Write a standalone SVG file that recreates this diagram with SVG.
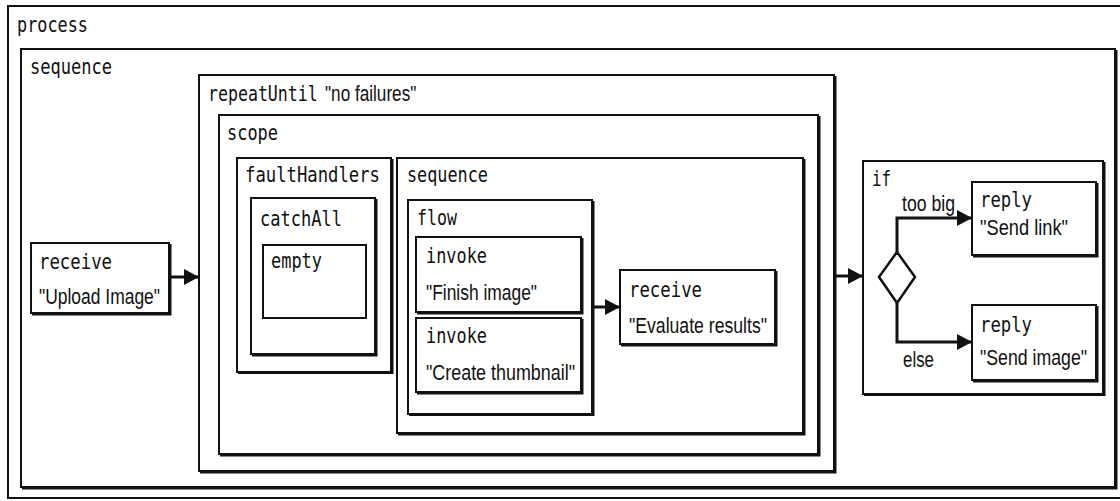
<svg xmlns="http://www.w3.org/2000/svg" width="1120" height="501" viewBox="0 0 1120 501">
  <style>
    .box { fill: #fff; stroke: #111; stroke-width: 2; }
    .shadow { fill: none; stroke: #111; stroke-width: 2; }
    .kw { font-family: "DejaVu Sans Mono", "Liberation Mono", monospace; font-size: 21px; fill: #111; }
    .str { font-family: "Liberation Sans", Arial, sans-serif; font-size: 22px; fill: #111; }
    .edge { fill: none; stroke: #111; stroke-width: 3; }
  </style>
  <defs>
    <marker id="arrow" markerUnits="userSpaceOnUse" markerWidth="16" markerHeight="17" refX="15" refY="8" orient="auto">
      <path d="M0,0 L15,8 L0,16 z" fill="#111"/>
    </marker>
  </defs>
  <rect width="1120" height="501" fill="#fff"/>

  <g id="process">
    <rect class="box" x="8" y="6" width="1114" height="492"/>
    <text class="kw" x="17" y="32" textLength="71" lengthAdjust="spacingAndGlyphs">process</text>
  </g>

  <g id="sequence-main">
    <rect class="box" x="21" y="49" width="1094" height="438" stroke-width="2.5"/>
    <path class="shadow" d="M1116.5,50 V488.5 H22"/>
    <text class="kw" x="30" y="74" textLength="82" lengthAdjust="spacingAndGlyphs">sequence</text>
  </g>

  <g id="receive-upload">
    <rect class="box" x="31" y="243" width="138" height="70"/>
    <path class="shadow" d="M170.5,244 V314.5 H32"/>
    <text class="kw" x="39" y="269" textLength="73" lengthAdjust="spacingAndGlyphs">receive</text>
    <text class="str" x="39" y="304" textLength="121" lengthAdjust="spacingAndGlyphs">"Upload Image"</text>
  </g>

  <g id="repeat-until">
    <rect class="box" x="199" y="75" width="635" height="396" stroke-width="2.5"/>
    <path class="shadow" d="M835.5,76 V472.5 H200"/>
    <text class="kw" transform="translate(208,101) scale(0.79,1)">repeatUntil</text>
    <text class="str" transform="translate(325,101) scale(0.78,1)">"no failures"</text>
  </g>

  <g id="scope">
    <rect class="box" x="219" y="115" width="599" height="339"/>
    <path class="shadow" d="M819.5,116 V455.5 H220"/>
    <text class="kw" x="227" y="140" textLength="51" lengthAdjust="spacingAndGlyphs">scope</text>
  </g>

  <g id="fault-handlers">
    <rect class="box" x="237" y="158" width="154" height="214"/>
    <path class="shadow" d="M392.5,159 V373 H238"/>
    <text class="kw" x="245" y="182" textLength="135" lengthAdjust="spacingAndGlyphs">faultHandlers</text>
  </g>

  <g id="catch-all">
    <rect class="box" x="251" y="198" width="124" height="156"/>
    <path class="shadow" d="M376.5,199 V355.5 H252"/>
    <text class="kw" x="260" y="226" textLength="82" lengthAdjust="spacingAndGlyphs">catchAll</text>
  </g>

  <g id="empty">
    <rect class="box" x="263" y="245" width="103" height="73"/>
    <text class="kw" x="271" y="268" textLength="51" lengthAdjust="spacingAndGlyphs">empty</text>
  </g>

  <g id="sequence-inner">
    <rect class="box" x="397" y="158" width="406" height="275" stroke-width="2.5"/>
    <path class="shadow" d="M804.5,159 V434.5 H398"/>
    <text class="kw" x="407" y="182" textLength="81" lengthAdjust="spacingAndGlyphs">sequence</text>
  </g>

  <g id="flow">
    <rect class="box" x="408" y="200" width="184" height="214"/>
    <path class="shadow" d="M593.5,201 V415 H409"/>
    <text class="kw" x="417" y="225" textLength="40" lengthAdjust="spacingAndGlyphs">flow</text>
  </g>

  <g id="invoke-finish">
    <rect class="box" x="416" y="237" width="165" height="75"/>
    <path class="shadow" d="M582.5,238 V313.5 H417"/>
    <text class="kw" x="426" y="263" textLength="61" lengthAdjust="spacingAndGlyphs">invoke</text>
    <text class="str" x="426" y="300" textLength="111" lengthAdjust="spacingAndGlyphs">"Finish image"</text>
  </g>

  <g id="invoke-thumbnail">
    <rect class="box" x="416" y="318" width="165" height="74"/>
    <path class="shadow" d="M582.5,319 V393.5 H417"/>
    <text class="kw" x="426" y="343" textLength="61" lengthAdjust="spacingAndGlyphs">invoke</text>
    <text class="str" x="426" y="380" textLength="149" lengthAdjust="spacingAndGlyphs">"Create thumbnail"</text>
  </g>

  <g id="receive-evaluate">
    <rect class="box" x="620" y="270" width="155" height="74"/>
    <path class="shadow" d="M776.5,271 V345.5 H621"/>
    <text class="kw" x="629" y="297" textLength="73" lengthAdjust="spacingAndGlyphs">receive</text>
    <text class="str" x="629" y="333" textLength="138" lengthAdjust="spacingAndGlyphs">"Evaluate results"</text>
  </g>

  <g id="if">
    <rect class="box" x="863" y="161" width="240" height="233"/>
    <path class="shadow" d="M1104.5,162 V395 H864"/>
    <text class="kw" x="872" y="186" textLength="19" lengthAdjust="spacingAndGlyphs">if</text>
  </g>

  <g id="decision">
    <polygon points="897,252 915,277 897,303 879,277" fill="#fff" stroke="#111" stroke-width="2.5"/>
  </g>

  <g id="reply-link">
    <rect class="box" x="972" y="182" width="124" height="73"/>
    <path class="shadow" d="M1097.5,183 V256.5 H973"/>
    <text class="kw" x="980" y="207" textLength="52" lengthAdjust="spacingAndGlyphs">reply</text>
    <text class="str" x="980" y="235" textLength="88" lengthAdjust="spacingAndGlyphs">"Send link"</text>
  </g>

  <g id="reply-image">
    <rect class="box" x="972" y="305" width="124" height="75"/>
    <path class="shadow" d="M1097.5,306 V381.5 H973"/>
    <text class="kw" x="980" y="332" textLength="52" lengthAdjust="spacingAndGlyphs">reply</text>
    <text class="str" x="980" y="365" textLength="107" lengthAdjust="spacingAndGlyphs">"Send image"</text>
  </g>

  <g id="connectors">
    <path class="edge" d="M170,277 H199" marker-end="url(#arrow)"/>
    <path class="edge" d="M593,307 H620" marker-end="url(#arrow)"/>
    <path class="edge" d="M835,276 H863" marker-end="url(#arrow)"/>
    <path class="edge" d="M897,252 V218 H972" marker-end="url(#arrow)"/>
    <path class="edge" d="M897,303 V342 H972" marker-end="url(#arrow)"/>
    <text class="str" x="902" y="211" textLength="53" lengthAdjust="spacingAndGlyphs">too big</text>
    <text class="str" x="903" y="367" textLength="31" lengthAdjust="spacingAndGlyphs">else</text>
  </g>
</svg>
